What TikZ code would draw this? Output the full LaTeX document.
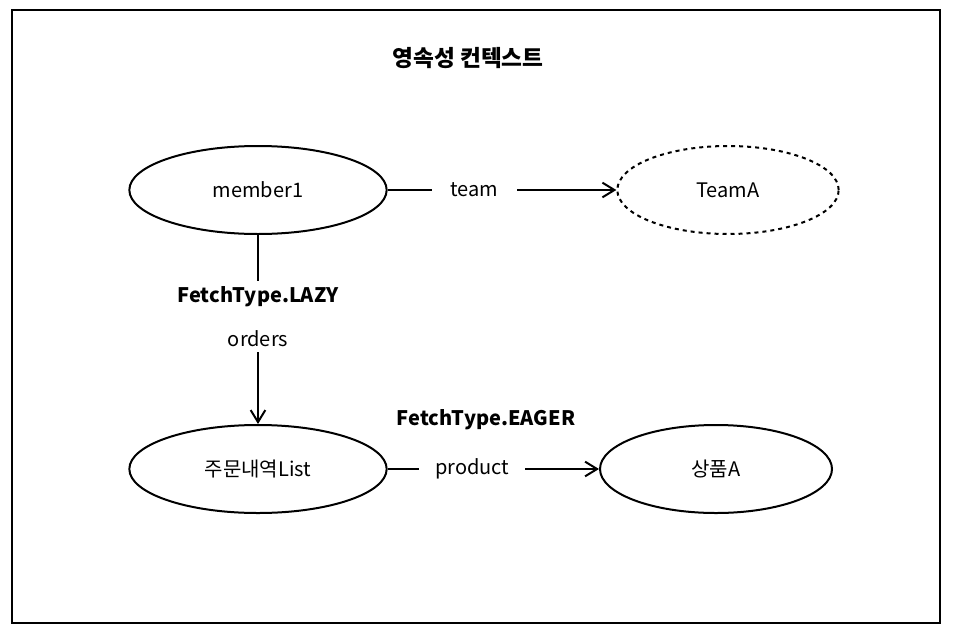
\documentclass[tikz,border=0pt]{standalone}
\usepackage{fontspec}
\setmainfont{Noto Sans CJK KR}
\usetikzlibrary{arrows.meta,shapes.geometric}
\begin{document}
\begin{tikzpicture}[x=0.75pt,y=-0.75pt,
  ent/.style={draw,line width=1.5pt,ellipse,minimum width=193pt,minimum height=66pt,font=\fontsize{15}{18}\selectfont},
  lbl/.style={fill=white,inner sep=3pt,font=\fontsize{15}{18}\selectfont},
  conn/.style={line width=1.5pt,-{Straight Barb[length=9pt,width=11pt,line width=1.5pt]}}]
\useasboundingbox (0,0) rectangle (973,635);
\draw[line width=1.5pt] (12,10) rectangle (940,623);
\node[font=\fontsize{17}{20}\selectfont\bfseries] (title) at (468,58) {영속성 컨텍스트};
\node[ent] (m) at (258,190) {member1};
\node[ent,dashed,minimum width=166pt] (t) at (728,190) {TeamA};
\node[ent] (o) at (258,469) {주문내역List};
\node[ent,minimum width=174pt] (p) at (716,469) {상품A};
\draw[conn] (m) -- node[lbl,inner xsep=14pt,pos=0.38]{team} (t);
\draw[conn] (o) -- node[lbl,inner xsep=12pt,pos=0.40]{product} (p);
\draw[conn] (m) -- node[lbl,align=center,inner ysep=4pt,pos=0.43,font=\fontsize{15}{33}\selectfont]{\textbf{FetchType.LAZY}\\orders} (o);
\node[font=\fontsize{15}{18}\selectfont\bfseries] (eager) at (486,420) {FetchType.EAGER};
\end{tikzpicture}
\end{document}
